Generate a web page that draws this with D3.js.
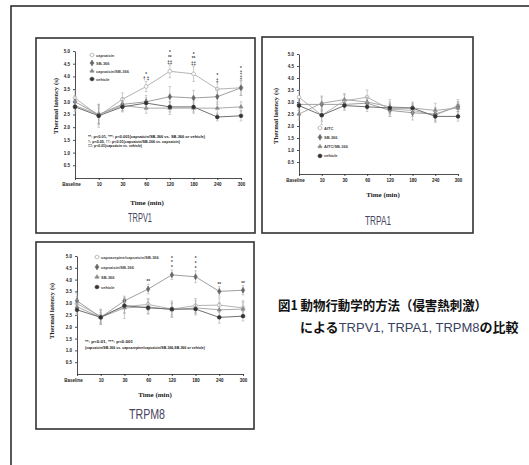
<!DOCTYPE html>
<html>
<head>
<meta charset="utf-8">
<script src="https://cdn.jsdelivr.net/npm/d3@7"></script>
<style>
  body { margin: 0; background: #fff; }
  svg { display: block; }
  .tick text { font-family: "Liberation Sans", Arial, sans-serif; font-weight: bold; font-size: 4.5px; fill: #222; }
  .tick line, .domain { stroke: #222; stroke-width: 0.8; }
</style>
</head>
<body>
<svg width="529" height="465"></svg>
<script>
// 時間軸のカテゴリ
const times = ["Baseline", "10", "30", "60", "120", "180", "240", "300"];
const yTicks = [0.5, 1.0, 1.5, 2.0, 2.5, 3.0, 3.5, 4.0, 4.5, 5.0];

// TRPV1
const v1Names = ["capsaicin", "SB-366", "capsaicin/SB-366", "vehicle"];
const v1A = [3.15, 2.45, 3.1, 3.6, 4.2, 4.1, 3.5, 3.55];
const v1B = [3.0, 2.5, 2.9, 3.0, 3.2, 3.15, 3.2, 3.55];
const v1C = [2.85, 2.5, 2.85, 2.75, 2.75, 2.75, 2.75, 2.8];
const v1D = [2.8, 2.45, 2.8, 2.95, 2.8, 2.8, 2.4, 2.45];
const v1ErrA = [0.3, 0.45, 0.25, 0.2, 0.25, 0.3, 0.25, 0.3];
const v1ErrB = [0.25, 0.4, 0.25, 0.25, 0.4, 0.3, 0.3, 0.3];
const v1ErrC = [0.2, 0.35, 0.2, 0.2, 0.25, 0.2, 0.25, 0.2];
const v1ErrD = [0.2, 0.3, 0.2, 0.2, 0.2, 0.2, 0.15, 0.2];
const v1Notes = [
  "**: p<0.01, ***: p<0.001(capsaicin/SB-366 vs. SB-366 or vehicle)",
  "†: p<0.05, ††: p<0.01(capsaicin/SB-366 vs. capsaicin)",
  "‡‡: p<0.01(capsaicin vs. vehicle)"
];
const v1Sig = [
  { t: "60", marks: ["*", "† ‡"] },
  { t: "120", marks: ["*", "**", "‡‡"] },
  { t: "180", marks: ["*", "**", "‡‡"] },
  { t: "240", marks: ["*", "‡"] },
  { t: "300", marks: ["*", "‡", "‡"] }
];

// TRPA1
const a1Names = ["AITC", "SB-366", "AITC/SB-366", "vehicle"];
const a1A = [3.2, 2.45, 3.05, 3.2, 2.7, 2.65, 2.45, 2.85];
const a1B = [2.9, 2.9, 2.9, 2.95, 2.65, 2.55, 2.5, 2.8];
const a1C = [2.5, 2.95, 3.1, 3.0, 2.8, 2.75, 2.65, 2.75];
const a1D = [2.85, 2.45, 2.85, 2.8, 2.75, 2.75, 2.4, 2.4];
const a1ErrA = [0.3, 0.4, 0.25, 0.3, 0.3, 0.25, 0.3, 0.25];
const a1ErrB = [0.25, 0.3, 0.2, 0.25, 0.25, 0.3, 0.25, 0.2];
const a1ErrC = [0.25, 0.3, 0.25, 0.2, 0.3, 0.25, 0.3, 0.25];
const a1ErrD = [0.2, 0.25, 0.2, 0.2, 0.2, 0.2, 0.2, 0.2];

// TRPM8
const m8Names = ["capsazepine/capsaicin/SB-366", "capsaicin/SB-366", "SB-366", "vehicle"];
const m8A = [2.98, 2.45, 2.85, 2.95, 2.75, 2.9, 2.92, 2.8];
const m8B = [3.1, 2.4, 3.1, 3.6, 4.2, 4.12, 3.5, 3.55];
const m8C = [2.85, 2.4, 2.8, 2.85, 2.72, 2.8, 2.72, 2.75];
const m8D = [2.72, 2.4, 2.9, 2.8, 2.75, 2.75, 2.4, 2.45];
const m8ErrA = [0.3, 0.3, 0.3, 0.25, 0.35, 0.3, 0.3, 0.3];
const m8ErrB = [0.3, 0.3, 0.2, 0.2, 0.2, 0.25, 0.2, 0.2];
const m8ErrC = [0.3, 0.3, 0.45, 0.3, 0.3, 0.3, 0.3, 0.3];
const m8ErrD = [0.25, 0.2, 0.3, 0.25, 0.25, 0.2, 0.25, 0.2];
const m8Notes = [
  "**: p<0.01, ***: p<0.001",
  "(capsaicin/SB-366 vs. capsazepine/capsaicin/SB-366,SB-366 or vehicle)"
];
const m8Sig = [
  { t: "60", marks: ["**"] },
  { t: "120", marks: ["*", "*", "*"] },
  { t: "180", marks: ["*", "*", "*"] },
  { t: "240", marks: ["**"] },
  { t: "300", marks: ["**"] }
];

// 系列の見た目
const styles = [
  { line: "#b5b5b5", sym: d3.symbolCircle, fill: "#fff", stroke: "#999", size: 11 },
  { line: "#a0a0a0", sym: d3.symbolDiamond, fill: "#666", stroke: "#666", size: 10 },
  { line: "#aaa", sym: d3.symbolTriangle, fill: "#888", stroke: "#888", size: 7 },
  { line: "#707070", sym: d3.symbolCircle, fill: "#333", stroke: "#333", size: 11 }
];

const svg = d3.select("svg");

// 外枠
svg.append("rect")
  .attr("x", 11).attr("y", 6).attr("width", 560).attr("height", 500)
  .attr("fill", "none").attr("stroke", "#222").attr("stroke-width", 1.5);

function drawPanel(p) {
  const g = svg.append("g");

  g.append("rect")
    .attr("x", p.box[0]).attr("y", p.box[1])
    .attr("width", p.box[2]).attr("height", p.box[3])
    .attr("fill", "#fff").attr("stroke", "#333").attr("stroke-width", 1.6);

  const x = d3.scalePoint().domain(times).range([p.x0, p.x1]);
  const y = d3.scaleLinear().domain([0, 5]).range([p.y0, p.y1]);

  g.append("g")
    .attr("transform", `translate(${p.x0},0)`)
    .call(d3.axisLeft(y).tickValues(yTicks).tickFormat(d3.format(".1f")).tickSize(2).tickSizeOuter(0).tickPadding(3));

  g.append("g")
    .attr("transform", `translate(0,${y(0)})`)
    .call(d3.axisBottom(x).tickSize(2).tickSizeOuter(0).tickPadding(3))
    .selectAll(".tick text")
    .attr("dx", (d) => (d === "Baseline" ? -4 : 0));

  // 軸タイトル
  g.append("text")
    .attr("transform", `translate(${p.yt[0]},${p.yt[1]}) rotate(-90)`)
    .attr("text-anchor", "middle")
    .attr("font-family", "Liberation Serif, serif").attr("font-weight", "bold")
    .attr("font-size", 6.5).attr("fill", "#222")
    .attr("textLength", 56).attr("lengthAdjust", "spacingAndGlyphs")
    .text("Thermal latency (s)");

  g.append("text")
    .attr("x", p.xt[0]).attr("y", p.xt[1])
    .attr("text-anchor", "middle")
    .attr("font-family", "Liberation Serif, serif").attr("font-weight", "bold")
    .attr("font-size", 7).attr("fill", "#222")
    .text("Time (min)");

  g.append("text")
    .attr("x", p.tt[0]).attr("y", p.tt[1])
    .attr("text-anchor", "middle")
    .attr("font-family", "Liberation Sans Narrow, Liberation Sans, sans-serif")
    .attr("font-size", p.tt[2]).attr("fill", "#4a4460")
    .attr("textLength", p.tt[3]).attr("lengthAdjust", "spacingAndGlyphs")
    .text(p.title);

  const line = d3.line().x((d, i) => x(times[i])).y((d) => y(d));

  p.series.forEach((s, k) => {
    const st = styles[k];
    // エラーバー
    s.values.forEach((v, i) => {
      const cx = x(times[i]);
      const e = s.err[i];
      g.append("line").attr("x1", cx).attr("x2", cx).attr("y1", y(v - e)).attr("y2", y(v + e))
        .attr("stroke", "#aaa").attr("stroke-width", 0.6);
      [v - e, v + e].forEach((w) => {
        g.append("line").attr("x1", cx - 1.3).attr("x2", cx + 1.3).attr("y1", y(w)).attr("y2", y(w))
          .attr("stroke", "#aaa").attr("stroke-width", 0.6);
      });
    });
    g.append("path").attr("d", line(s.values))
      .attr("fill", "none").attr("stroke", st.line).attr("stroke-width", 1);
    g.selectAll(null).data(s.values).enter().append("path")
      .attr("d", d3.symbol().type(st.sym).size(st.size))
      .attr("transform", (d, i) => `translate(${x(times[i])},${y(d)})`)
      .attr("fill", st.fill).attr("stroke", st.stroke).attr("stroke-width", 0.6);

    // 凡例
    const ly = p.leg[1] + k * p.leg[2];
    g.append("line").attr("x1", p.leg[0] - 2.5).attr("x2", p.leg[0] + 2.5).attr("y1", ly).attr("y2", ly)
      .attr("stroke", st.line).attr("stroke-width", 0.8);
    g.append("path")
      .attr("d", d3.symbol().type(st.sym).size(st.size))
      .attr("transform", `translate(${p.leg[0]},${ly})`)
      .attr("fill", st.fill).attr("stroke", st.stroke).attr("stroke-width", 0.6);
    g.append("text")
      .attr("x", p.leg[0] + 4).attr("y", ly + 1.5)
      .attr("font-family", "Liberation Sans, sans-serif").attr("font-weight", "bold")
      .attr("font-size", 4).attr("fill", "#444")
      .text(s.name);
  });

  // 有意差記号
  (p.sig || []).forEach((d) => {
    const i = times.indexOf(d.t);
    const top = d3.max(p.series, (s) => s.values[i] + s.err[i]);
    d.marks.slice().reverse().forEach((m, j) => {
      g.append("text")
        .attr("x", x(d.t)).attr("y", y(top) - 1 - j * 4.8)
        .attr("text-anchor", "middle")
        .attr("font-family", "Liberation Sans, sans-serif").attr("font-weight", "bold")
        .attr("font-size", 4.5).attr("fill", "#333")
        .text(m);
    });
  });

  // 注釈
  (p.notes || []).forEach((n, j) => {
    g.append("text")
      .attr("x", p.note[0]).attr("y", p.note[1] + j * p.note[2])
      .attr("font-family", "Liberation Sans, sans-serif").attr("font-weight", "bold")
      .attr("font-size", 3.6).attr("fill", "#222")
      .attr("textLength", p.note[3][j]).attr("lengthAdjust", "spacingAndGlyphs")
      .text(n);
  });
}

drawPanel({
  title: "TRPV1",
  box: [36, 38, 219, 195],
  x0: 75, x1: 241, y0: 178, y1: 51,
  yt: [58, 106], xt: [147, 205], tt: [140, 222, 13, 24],
  leg: [92, 55, 8],
  note: [88, 138, 4.6, [117, 92, 54]],
  notes: v1Notes,
  sig: v1Sig,
  series: [
    { name: v1Names[0], values: v1A, err: v1ErrA },
    { name: v1Names[1], values: v1B, err: v1ErrB },
    { name: v1Names[2], values: v1C, err: v1ErrC },
    { name: v1Names[3], values: v1D, err: v1ErrD }
  ]
});

drawPanel({
  title: "TRPA1",
  box: [262, 37, 211, 196],
  x0: 299, x1: 458, y0: 174, y1: 54,
  yt: [278, 116], xt: [383, 197], tt: [378, 225, 13, 26],
  leg: [320, 128, 9.3],
  series: [
    { name: a1Names[0], values: a1A, err: a1ErrA },
    { name: a1Names[1], values: a1B, err: a1ErrB },
    { name: a1Names[2], values: a1C, err: a1ErrC },
    { name: a1Names[3], values: a1D, err: a1ErrD }
  ]
});

drawPanel({
  title: "TRPM8",
  box: [36, 242, 218, 187],
  x0: 77, x1: 243, y0: 374, y1: 256,
  yt: [54, 311], xt: [155, 397], tt: [147, 419, 15, 36],
  leg: [97, 257, 10],
  note: [85, 343, 6, [48, 120]],
  notes: m8Notes,
  sig: m8Sig,
  series: [
    { name: m8Names[0], values: m8A, err: m8ErrA },
    { name: m8Names[1], values: m8B, err: m8ErrB },
    { name: m8Names[2], values: m8C, err: m8ErrC },
    { name: m8Names[3], values: m8D, err: m8ErrD }
  ]
});

// 図のキャプション
const cap = svg.append("g")
  .attr("font-family", "Noto Sans CJK JP, sans-serif")
  .attr("font-weight", "bold").attr("font-size", 13).attr("fill", "#111");

cap.append("text")
  .attr("x", 278).attr("y", 310)
  .attr("textLength", 209).attr("lengthAdjust", "spacingAndGlyphs")
  .text("図1 動物行動学的方法（侵害熱刺激）");

const line2 = cap.append("text")
  .attr("x", 300).attr("y", 332);
line2.append("tspan").text("による");
line2.append("tspan").attr("fill", "#3a4262").attr("font-weight", "normal")
  .attr("font-family", "Liberation Sans Narrow, Liberation Sans, sans-serif")
  .text("TRPV1, TRPA1, TRPM8");
line2.append("tspan").text("の比較");
</script>
</body>
</html>
